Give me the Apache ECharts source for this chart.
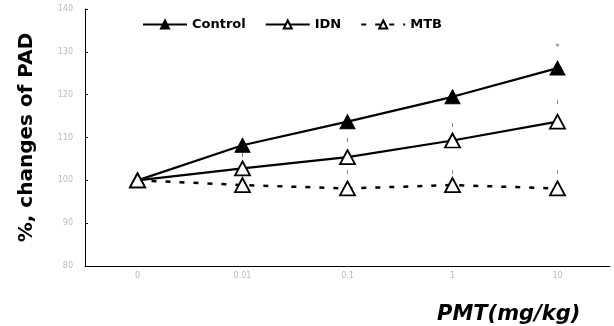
<!DOCTYPE html>
<html>
<head>
<meta charset="utf-8">
<script src="https://cdn.jsdelivr.net/npm/echarts@6/dist/echarts.min.js"></script>
<style>html,body{margin:0;padding:0;background:#fff}#c{width:614px;height:326px}</style>
</head>
<body>
<div id="c"></div>
<script>
var categories = ['0', '0.01', '0.1', '1', '10'];
var controlValues = [100, 108.2, 113.7, 119.5, 126.2];
var idnValues = [100, 102.8, 105.4, 109.3, 113.7];
var mtbValues = [100, 98.9, 98.1, 98.9, 98.1];
var yTicks = [80, 90, 100, 110, 120, 130, 140];
// small error-bar tick marks seen above/below points: [category, value]
var errMarks = [['0.01', 105.9], ['0.1', 109.4], ['0.1', 101.9], ['1', 112.9], ['1', 101.9], ['10', 118.3], ['10', 101.9]];
var starMarks = [['10', 130.9]];

var FONT = 'DejaVu Sans';
var chart = echarts.init(document.getElementById('c'));
var tri = 'triangle';
chart.setOption({
  animation: false,
  backgroundColor: '#fff',
  grid: { left: 85, right: 4, top: 9, bottom: 60 },
  legend: {
    left: 137, top: 13, itemWidth: 44, itemHeight: 10, itemGap: 19,
    data: ['Control', 'IDN', 'MTB'],
    textStyle: { fontFamily: FONT, fontWeight: 'bold', fontSize: 13, color: '#000' }
  },
  graphic: [{
    type: 'text', left: 437, top: 304,
    style: { text: 'PMT(mg/kg)', font: 'italic bold 21px "DejaVu Sans"', fill: '#000' }
  }],
  xAxis: {
    type: 'category', data: categories, boundaryGap: true,
    axisLine: { lineStyle: { color: '#000', width: 1 } },
    axisTick: { inside: true, length: 3, lineStyle: { color: '#000' } },
    axisLabel: { color: '#bbb', fontSize: 8, fontFamily: FONT, margin: 6 },
    splitLine: { show: false }
  },
  yAxis: {
    type: 'value', min: yTicks[0], max: yTicks[yTicks.length - 1], interval: 10,
    name: '%, changes of PAD', nameLocation: 'middle', nameGap: 48,
    nameTextStyle: { fontFamily: FONT, fontWeight: 'bold', fontSize: 20, color: '#000' },
    axisLine: { show: true, lineStyle: { color: '#000', width: 1 } },
    axisTick: { show: true, inside: true, length: 3, lineStyle: { color: '#000' } },
    axisLabel: { color: '#bbb', fontSize: 8, fontFamily: FONT, margin: 12 },
    splitLine: { show: false }
  },
  series: [
    {
      name: 'Control', type: 'line', data: controlValues, symbol: tri, symbolSize: [15, 14],
      showAllSymbol: true, z: 2,
      lineStyle: { color: '#000', width: 2.2 },
      itemStyle: { color: '#000', borderColor: '#000', borderWidth: 1 }
    },
    {
      name: 'IDN', type: 'line', data: idnValues, symbol: tri, symbolSize: [15, 14],
      showAllSymbol: true, z: 4,
      lineStyle: { color: '#000', width: 2.2 },
      itemStyle: { color: '#fff', borderColor: '#000', borderWidth: 1.8 }
    },
    {
      name: 'MTB', type: 'line', data: mtbValues, symbol: tri, symbolSize: [15, 14],
      showAllSymbol: true, z: 3,
      lineStyle: { color: '#000', width: 2.5, type: [5, 9] },
      itemStyle: { color: '#fff', borderColor: '#000', borderWidth: 1.8 }
    },
    {
      name: 'err', type: 'scatter', data: errMarks, symbol: 'rect', symbolSize: [1, 4],
      itemStyle: { color: '#666' }, silent: true, z: 1
    },
    {
      name: 'star', type: 'scatter', data: starMarks, symbolSize: 0,
      label: { show: true, formatter: '*', position: 'inside', color: '#555', fontSize: 9, fontFamily: FONT },
      silent: true
    }
  ]
});
</script>
</body>
</html>
